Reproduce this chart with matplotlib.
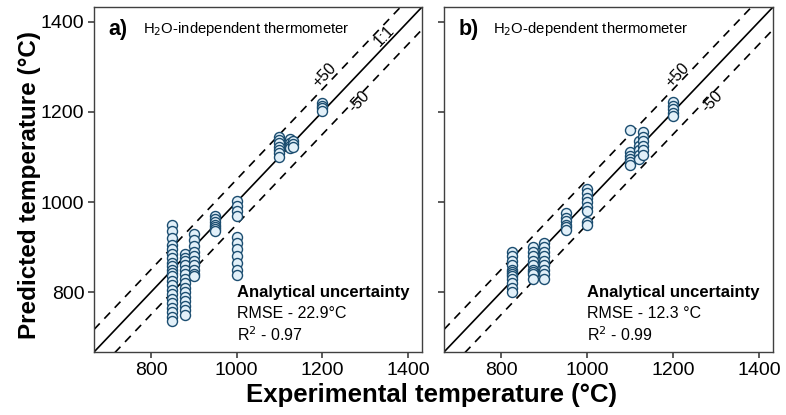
import matplotlib
matplotlib.use("Agg")
import matplotlib.pyplot as plt
import numpy as np

plt.rcParams['font.family'] = ['Liberation Sans', 'DejaVu Sans']

# ---- data (panel a: H2O-independent) ----
exp_a = ([850] * 22 + [880] * 15 + [900] * 10 + [950] * 7 + [1000] * 11
         + [1100] * 7 + [1125] * 4 + [1132] * 3 + [1200] * 4)
pred_a = [950, 935, 920, 905, 895, 885, 875, 865, 858, 850, 843, 835, 825, 815, 805, 795, 785, 775, 765, 755, 745, 735,
          885, 875, 868, 860, 850, 840, 830, 820, 810, 800, 790, 780, 770, 760, 750,
          928, 915, 902, 890, 880, 870, 860, 850, 840, 835,
          970, 962, 956, 950, 945, 940, 936,
          1002, 992, 980, 968, 922, 908, 895, 880, 865, 850, 838,
          1145, 1138, 1130, 1122, 1115, 1108, 1100,
          1140, 1132, 1125, 1120,
          1135, 1128, 1122,
          1220, 1214, 1208, 1203]

# ---- data (panel b: H2O-dependent) ----
exp_b = ([825] * 12 + [875] * 9 + [900] * 9 + [950] * 6 + [1000] * 8
         + [1100] * 6 + [1120] * 5 + [1130] * 6 + [1200] * 5)
pred_b = [890, 880, 870, 860, 850, 845, 840, 835, 830, 820, 810, 800,
          900, 890, 880, 870, 860, 850, 845, 840, 830,
          910, 900, 890, 880, 870, 860, 850, 840, 830,
          975, 965, 958, 950, 944, 938,
          1030, 1020, 1010, 1000, 990, 980, 955, 948,
          1160, 1110, 1102, 1095, 1088, 1082,
          1135, 1125, 1115, 1105, 1095,
          1155, 1145, 1135, 1125, 1115, 1105,
          1222, 1214, 1206, 1198, 1190]

ticks = [800, 1000, 1200, 1400]
lim = (667, 1433)
offset = 50

titles = ["H$_2$O-independent thermometer", "H$_2$O-dependent thermometer"]
letters = ["a)", "b)"]
rmse = ["RMSE - 22.9°C", "RMSE - 12.3 °C"]
r2 = ["R$^2$ - 0.97", "R$^2$ - 0.99"]

fig = plt.figure(figsize=(7.86, 4.15), dpi=100)
ax_a = fig.add_axes([0.1196, 0.1518, 0.4173, 0.8313])
ax_b = fig.add_axes([0.5649, 0.1518, 0.4186, 0.8313])

face = '#e2f0f9'
edge = '#1b4d70'
spine_c = '#404040'

for i, (ax, xs, ys) in enumerate([(ax_a, exp_a, pred_a), (ax_b, exp_b, pred_b)]):
    xx = np.array(lim)
    ax.plot(xx, xx, color='black', lw=1.2, zorder=1)
    ax.plot(xx, xx + offset, color='black', lw=1.2, ls=(0, (5, 4)), zorder=1)
    ax.plot(xx, xx - offset, color='black', lw=1.2, ls=(0, (5, 4)), zorder=1)
    ax.scatter(xs, ys, s=52, facecolor=face, edgecolor=edge, linewidth=1.0, zorder=3)
    ax.set_xlim(lim)
    ax.set_ylim(lim)
    ax.set_xticks(ticks)
    ax.set_yticks(ticks)
    for sp in ax.spines.values():
        sp.set_color(spine_c)
        sp.set_linewidth(1.0)
    ax.tick_params(direction='out', length=4, width=1.2, color=spine_c, labelsize=14, pad=3)
    if i == 1:
        ax.set_yticklabels([])
    ax.text(0.043, 0.935, letters[i], transform=ax.transAxes, fontsize=15.5,
            fontweight='bold', ha='left', va='center')
    ax.text(0.149, 0.935, titles[i], transform=ax.transAxes, fontsize=10.7,
            ha='left', va='center')
    ax.text(0.435, 0.173, "Analytical uncertainty", transform=ax.transAxes, fontsize=12,
            fontweight='bold', ha='left', va='center')
    ax.text(0.435, 0.112, rmse[i], transform=ax.transAxes, fontsize=11.5, ha='left', va='center')
    ax.text(0.435, 0.051, r2[i], transform=ax.transAxes, fontsize=11.5, ha='left', va='center')

ax_a.text(1206, 1282, "+50", rotation=46, fontsize=11.5, ha='center', va='center')
ax_a.text(1285, 1224, "-50", rotation=46, fontsize=11.5, ha='center', va='center')
ax_a.text(1345, 1370, "1:1", rotation=46, fontsize=11.5, ha='center', va='center')
ax_b.text(1211, 1281, "+50", rotation=46, fontsize=11.5, ha='center', va='center')
ax_b.text(1292, 1224, "-50", rotation=46, fontsize=11.5, ha='center', va='center')

fig.text(0.038, 0.555, "Predicted temperature (°C)", fontsize=17.5, fontweight='bold',
         rotation=90, ha='center', va='center')
fig.text(0.549, 0.048, "Experimental temperature (°C)", fontsize=18.5, fontweight='bold',
         ha='center', va='center')

fig.savefig("out.png", dpi=100)
